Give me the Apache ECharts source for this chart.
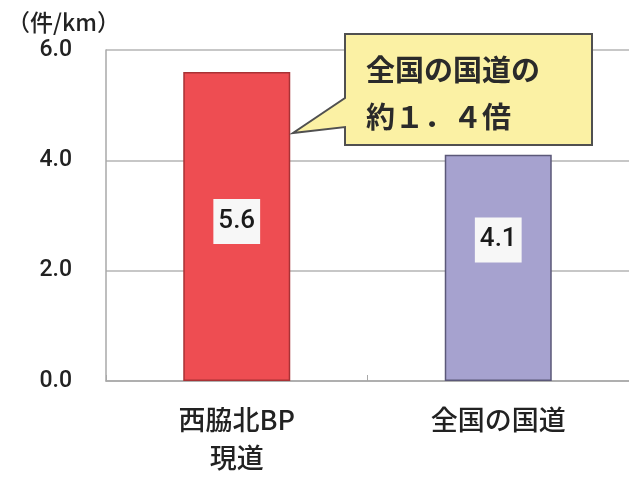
<!DOCTYPE html>
<html>
<head>
<meta charset="utf-8">
<script src="https://cdn.jsdelivr.net/npm/echarts@6/dist/echarts.min.js"></script>
<style>
  html, body { margin: 0; padding: 0; background: #ffffff; }
  #chart { width: 629px; height: 477px; }
</style>
</head>
<body>
<div id="chart"></div>
<script>
// 件/km by road
const categories = ['西脇北BP\n現道', '全国の国道'];
const values = [5.6, 4.1];
const barColors = ['#ee4d52', '#a6a2cf'];
const barBorders = ['#a83235', '#5b5878'];
const labelOffsets = [[0, -5], [0, -28]];
const yTicks = { min: 0, max: 6, interval: 2 };
const unitLabel = '（件/km）';
const calloutLines = ['全国の国道の', '約１．４倍'];

const jpFont = '"Noto Sans CJK JP", "Noto Sans", sans-serif';
const numFont = 'Roboto, "Liberation Sans", Arial, sans-serif';

const chart = echarts.init(document.getElementById('chart'));

chart.setOption({
  backgroundColor: '#ffffff',
  animation: false,
  grid: { left: 106, right: -4, top: 50, bottom: 96, containLabel: false },
  xAxis: {
    type: 'category',
    data: categories,
    axisLine: { show: true, lineStyle: { color: '#a8a8a8', width: 1.5 } },
    axisTick: { show: true, inside: true, length: 6, lineStyle: { color: '#a8a8a8' } },
    axisLabel: {
      fontFamily: jpFont,
      fontSize: 27,
      fontWeight: 500,
      color: '#222222',
      margin: 20,
      lineHeight: 38
    }
  },
  yAxis: {
    type: 'value',
    min: yTicks.min,
    max: yTicks.max,
    interval: yTicks.interval,
    axisLine: { show: true, lineStyle: { color: '#a8a8a8', width: 1.5 } },
    axisTick: { show: false },
    axisLabel: {
      formatter: v => v.toFixed(1),
      fontFamily: numFont,
      fontSize: 23,
      fontWeight: 500,
      color: '#222222',
      margin: 34
    },
    splitLine: { show: true, lineStyle: { color: '#b4b4b4', width: 1.5 } }
  },
  series: [{
    type: 'bar',
    barWidth: 107,
    data: values.map((v, i) => ({
      value: v,
      itemStyle: { color: barColors[i], borderColor: barBorders[i], borderWidth: 1.5 },
      label: { offset: labelOffsets[i] }
    })),
    label: {
      show: true,
      position: 'inside',
      formatter: p => p.value.toFixed(1),
      fontFamily: numFont,
      fontSize: 26,
      fontWeight: 500,
      color: '#1a1a1a',
      backgroundColor: '#f7f7f7',
      padding: [10, 5, 9, 5]
    }
  }],
  title: {
    text: unitLabel,
    left: 2,
    top: 6,
    textStyle: { fontFamily: jpFont, fontSize: 23, fontWeight: 500, color: '#222222' }
  },
  graphic: [
    {
      type: 'polygon',
      shape: {
        points: [[345, 34], [592, 34], [592, 145], [345, 145], [345, 127], [293, 133], [345, 98]]
      },
      style: { fill: '#fbf1a4', stroke: '#505050', lineWidth: 2 },
      z: 10
    },
    {
      type: 'text',
      left: 366,
      top: 46,
      style: {
        text: calloutLines.join('\n'),
        font: 'bold 29px ' + jpFont,
        fill: '#2a2a2a',
        lineHeight: 47
      },
      z: 11
    }
  ]
});
</script>
</body>
</html>
